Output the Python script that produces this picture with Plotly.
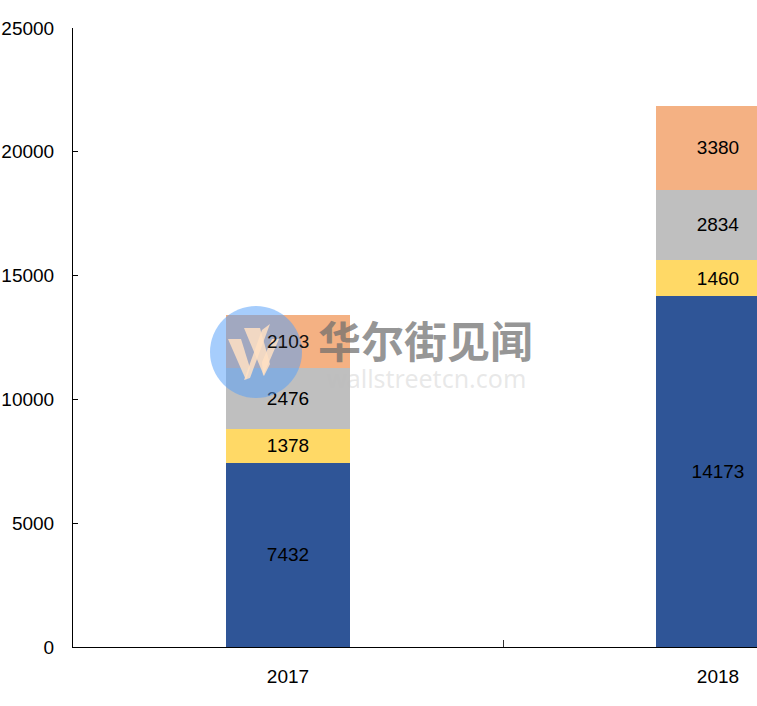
import plotly.graph_objects as go

years = ['2017', '2018']
seg_blue = [7432, 14173]
seg_yellow = [1378, 1460]
seg_grey = [2476, 2834]
seg_orange = [2103, 3380]
colors = ['#2F5597', '#FFD966', '#BFBFBF', '#F4B183']
font_name = 'Liberation Sans, Arial, sans-serif'

fig = go.Figure()

for vals, col in zip([seg_blue, seg_yellow, seg_grey, seg_orange], colors):
    # 2017 orange label goes on top of the logo, added further down
    labels = ['' if v == seg_orange[0] else v for v in vals]
    fig.add_trace(
        go.Bar(
            x=years,
            y=vals,
            text=labels,
            textposition='inside',
            insidetextanchor='middle',
            textangle=0,
            textfont=dict(color='black', size=19, family=font_name),
            marker=dict(color=col, line=dict(width=0)),
            width=0.287,
        )
    )


# watermark, positions given in window pixels
def to_paper(px, py):
    return (px - 73) / 684, (647 - py) / 619


def logo_path(points):
    out = []
    for px, py in points:
        x, y = to_paper(px, py)
        out.append(f'{x:.4f},{y:.4f}')
    return 'M' + 'L'.join(out) + 'Z'


cx0, cy0 = to_paper(210, 398)
cx1, cy1 = to_paper(302, 306)
fig.add_shape(
    type='circle', xref='paper', yref='paper', layer='above',
    x0=cx0, x1=cx1, y0=cy0, y1=cy1,
    fillcolor='rgba(85,160,250,0.52)', line=dict(width=0),
)

# the W of the logo: two wide strokes and two thin ones
logo_strokes = [
    [(228, 339), (241, 339), (250, 368), (246, 380)],
    [(244, 380), (262, 330), (270, 324), (250, 378)],
    [(244, 328), (260, 328), (270, 364), (264, 376)],
    [(263, 376), (279, 339), (272, 339), (262, 362)],
]
for stroke in logo_strokes:
    fig.add_shape(
        type='path', xref='paper', yref='paper', layer='above',
        path=logo_path(stroke),
        fillcolor='rgba(255,224,195,0.85)', line=dict(width=0),
    )

marks = [
    ('华尔街见闻', 425, 339, 43, 'rgba(110,110,110,0.72)', 'Noto Sans CJK SC, sans-serif', 700),
    ('wallstreetcn.com', 426, 378, 25, 'rgba(190,190,190,0.35)', 'Noto Sans, sans-serif', 400),
]
for txt, px, py, size, col, fam, wt in marks:
    x, y = to_paper(px, py)
    fig.add_annotation(
        text=txt, xref='paper', yref='paper', x=x, y=y,
        showarrow=False, font=dict(size=size, color=col, family=fam, weight=wt),
    )

# numeric-looking categories have to be addressed by index here
fig.add_annotation(
    text=str(seg_orange[0]),
    x=years.index('2017'),
    y=seg_blue[0] + seg_yellow[0] + seg_grey[0] + seg_orange[0] / 2,
    showarrow=False,
    font=dict(size=19, color='#111', family=font_name),
)

fig.update_layout(
    barmode='stack',
    showlegend=False,
    width=757,
    height=706,
    margin=dict(l=73, r=0, t=28, b=59),
    paper_bgcolor='white',
    plot_bgcolor='white',
    font=dict(family=font_name, size=19, color='black'),
)
fig.update_xaxes(
    range=[-0.5, 1.0907],
    showgrid=False,
    showline=True,
    linecolor='black',
    linewidth=1,
    ticks='inside',
    tickson='boundaries',
    ticklen=7,
    tickcolor='#333',
    tickfont=dict(size=19),
    ticklabelstandoff=12,
)
fig.update_yaxes(
    range=[0, 25000],
    tickvals=[0, 5000, 10000, 15000, 20000, 25000],
    tickformat='d',
    showgrid=False,
    zeroline=False,
    showline=True,
    linecolor='black',
    linewidth=1,
    ticks='inside',
    ticklen=5,
    tickcolor='black',
    tickfont=dict(size=19),
    ticklabelstandoff=14,
)

fig.write_html("out.html", config=dict(displayModeBar=False), post_script="document.body.style.margin='0';")
